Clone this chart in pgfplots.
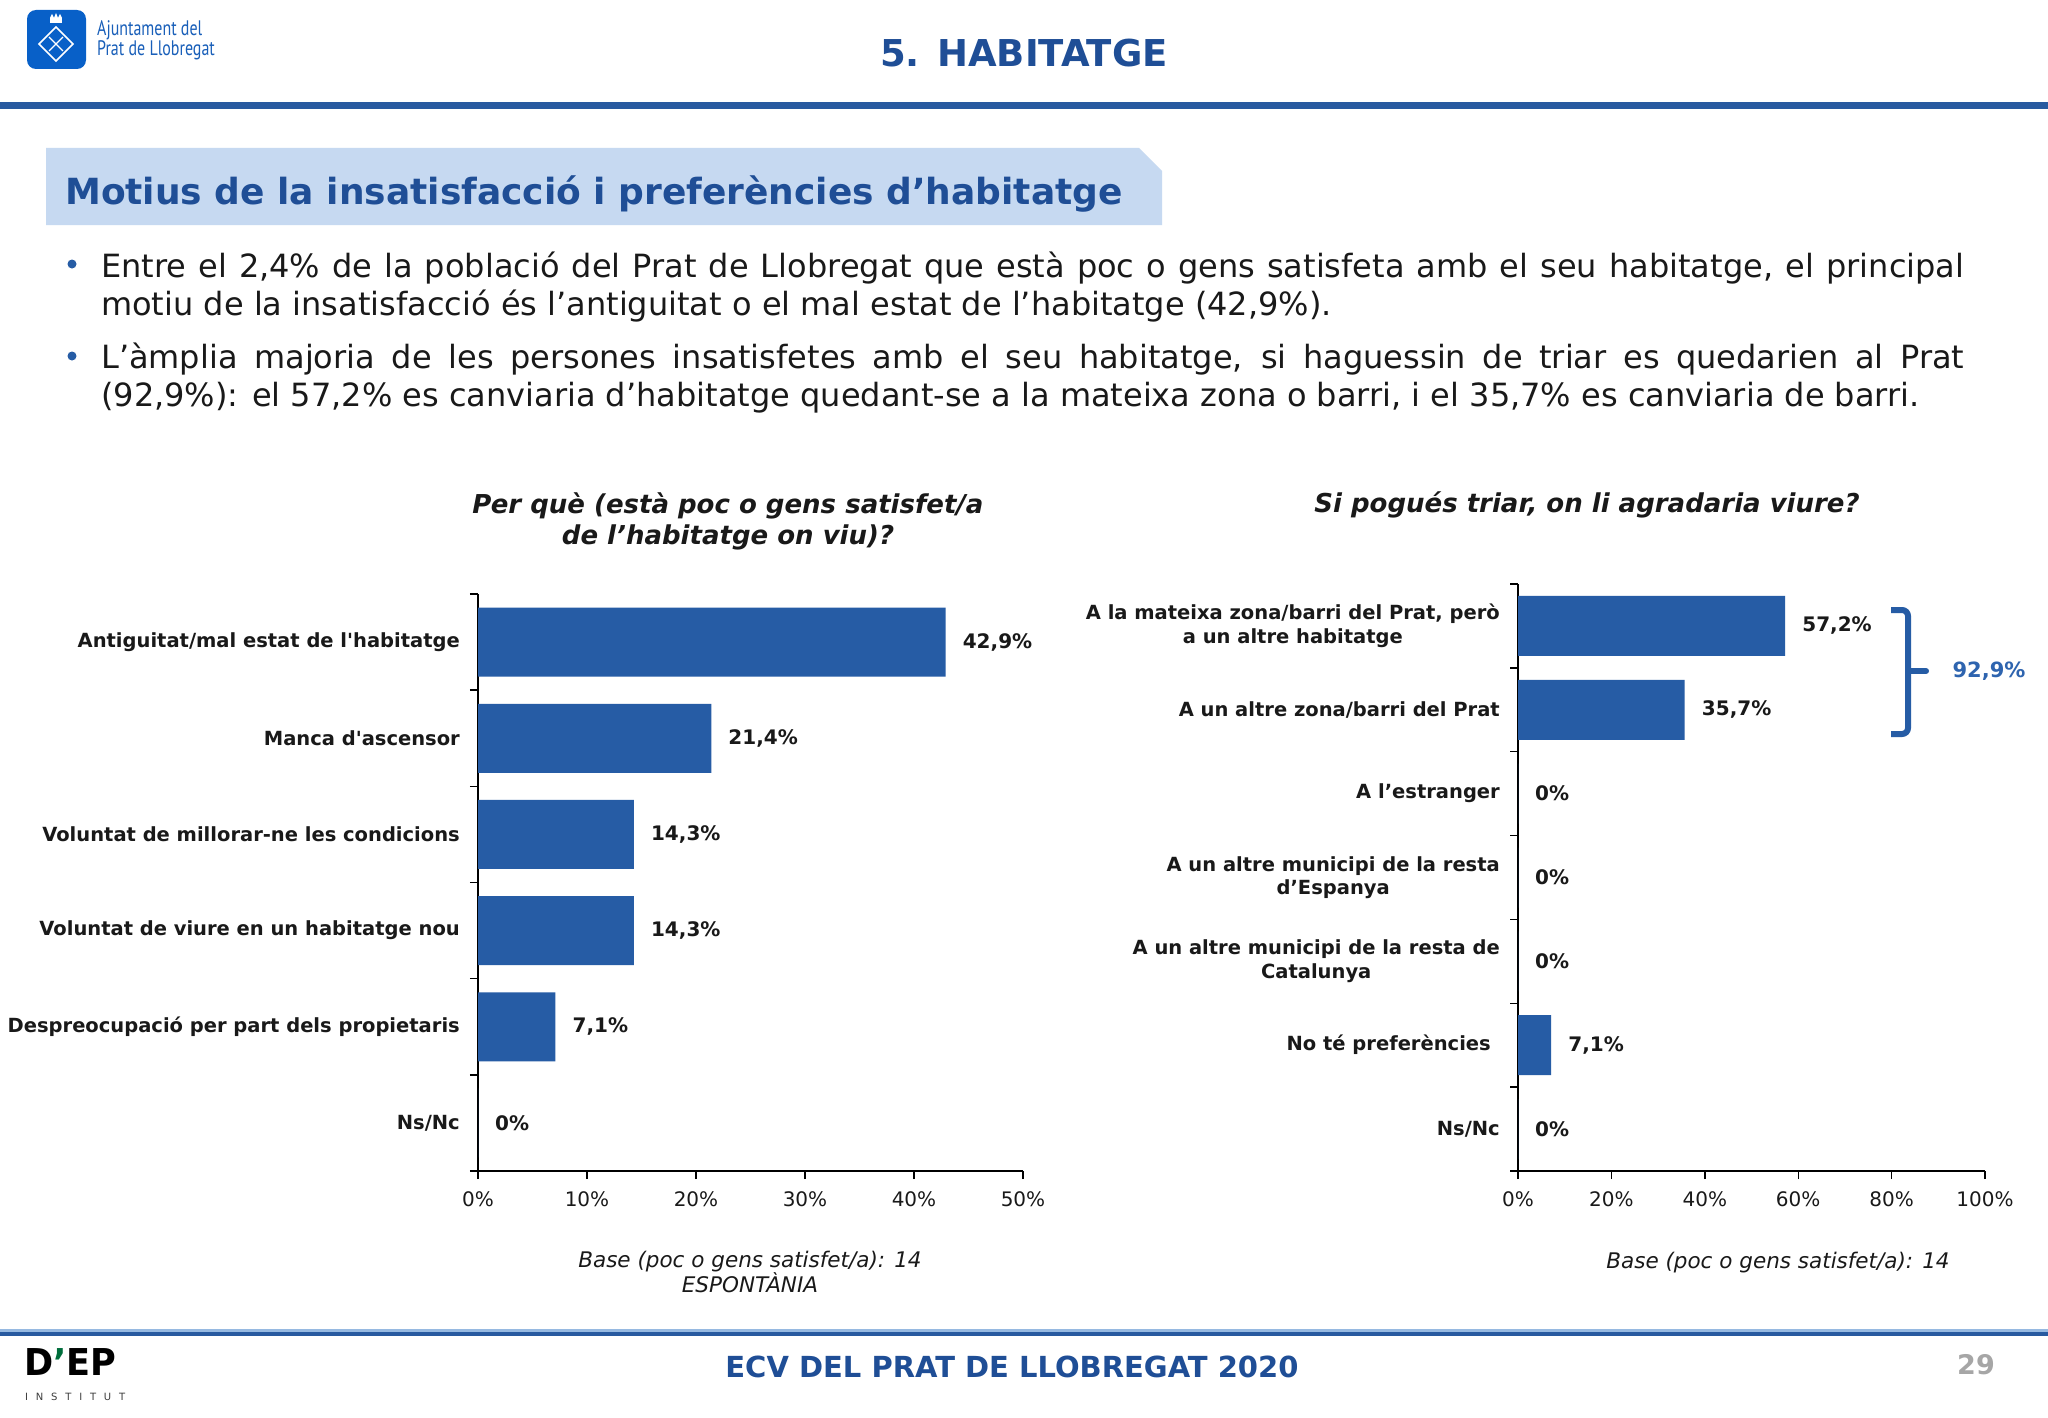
\documentclass[border=0pt]{standalone}
\usepackage{pgfplots}
\pgfplotsset{compat=1.18}
\usepackage{graphicx}
\usepackage{fontspec}
\setmainfont{DejaVu Sans}
\newfontfamily\logofont{PT Sans}
\definecolor{titleblue}{RGB}{31,78,150}
\definecolor{barblue}{RGB}{38,92,165}
\definecolor{boxblue}{RGB}{198,217,241}
\definecolor{logoblue}{RGB}{8,96,200}
\definecolor{lineblue}{RGB}{40,90,160}
\definecolor{lightline}{RGB}{150,185,225}
\definecolor{txt}{RGB}{25,25,25}
\definecolor{depgreen}{RGB}{0,110,60}
\newcommand{\fs}[2]{\fontsize{#1}{#2}\selectfont}
\pgfplotsset{
  mybar/.style={
    xbar, scale only axis, clip=false,
    axis x line*=bottom, axis y line*=left,
    x axis line style={-, black, line width=2.2pt},
    y axis line style={-, black, line width=1.4pt},
    tick align=outside,
    major tick length=8pt,
    tick style={black, line width=1.4pt},
    extra y tick style={major tick length=0pt, tick style={draw=none}},
    yticklabel style={align=center, font=\fs{19.5}{23.5}\bfseries, inner sep=0pt, xshift=-18pt, text=txt},
    xticklabel style={font=\fs{20}{24}, inner sep=0pt, yshift=-12pt, text=txt},
    point meta=explicit symbolic,
    nodes near coords,
    nodes near coords style={anchor=west, inner sep=0pt, xshift=17pt, font=\fs{20}{24}\bfseries, text=txt},
  }
}
\begin{document}
\begin{tikzpicture}[x=1pt,y=-1pt]
\fill[white] (0,0) rectangle (2048,1418);
% ---- header logo
\fill[logoblue, rounded corners=9pt] (27,10) rectangle (86,69);
\draw[white, line width=1.6pt] (56,27) -- (73,44) -- (56,61) -- (39,44) -- cycle;
\draw[white, line width=1.3pt] (49,51)--(63,37) (49,37)--(63,51);
\fill[white] (50,18) rectangle (62,23);
\fill[white] (50,18) -- (52,14) -- (54,18) -- (56,13) -- (58,18) -- (60,14) -- (62,18) -- cycle;
\node[anchor=west, inner sep=0pt, text={rgb,255:red,25;green,95;blue,185}] at (97,30) {\scalebox{0.76}[1]{\logofont\fs{21}{21}Ajuntament del}};
\node[anchor=west, inner sep=0pt, text={rgb,255:red,25;green,95;blue,185}] at (97,50) {\scalebox{0.76}[1]{\logofont\fs{21}{21}Prat de Llobregat}};
% ---- main title
\node[text=titleblue, inner sep=0pt] at (1024,53) {\fs{37}{44}\bfseries 5. HABITATGE};
\fill[lineblue] (0,102) rectangle (2048,109);
% ---- section box
\fill[boxblue] (46,148) -- (1139,148) -- (1162,171) -- (1162,225) -- (46,225) -- cycle;
\node[anchor=west, text=titleblue, inner sep=0pt] at (65,194) {\fs{36}{42}\bfseries Motius de la insatisfacció i preferències d’habitatge};
% ---- bullets
\fill[barblue] (72,264) circle (4.5);
\fill[barblue] (72,356) circle (4.5);
\node[anchor=north west, inner sep=0pt, text width=1863pt, align=justify, text=txt, font=\fs{32}{38}] at (101,251)
 {\strut Entre el 2,4\% de la població del Prat de Llobregat que està poc o gens satisfeta amb el seu habitatge, el principal\linebreak motiu de la insatisfacció és l’antiguitat o el mal estat de l’habitatge (42,9\%).};
\node[anchor=north west, inner sep=0pt, text width=1863pt, align=justify, text=txt, font=\fs{32}{38}] at (101,342)
 {\strut L’àmplia majoria de les persones insatisfetes amb el seu habitatge, si haguessin de triar es quedarien al Prat\linebreak (92,9\%): el 57,2\% es canviaria d’habitatge quedant-se a la mateixa zona o barri, i el 35,7\% es canviaria de barri.};
% ---- chart titles
\node[align=center, inner sep=0pt, text=txt, font=\fs{26}{31}\bfseries\itshape] at (728,521) {Per què (està poc o gens satisfet/a\\ de l’habitatge on viu)?};
\node[align=center, inner sep=0pt, text=txt, font=\fs{26}{31}\bfseries\itshape] at (1587,505) {Si pogués triar, on li agradaria viure?};
% ---- left chart
\begin{axis}[mybar,
  at={(478pt,-1171pt)}, anchor=south west,
  width=545pt, height=577pt,
  xmin=0, xmax=50, ymin=-0.5, ymax=5.5,
  bar width=69pt,
  xtick={0,10,20,30,40,50},
  xticklabels={0\%,10\%,20\%,30\%,40\%,50\%},
  ytick={-0.5,0.5,1.5,2.5,3.5,4.5,5.5},
  yticklabels={{},{},{},{},{},{},{},{}},
  extra y ticks={0,1,2,3,4,5},
  extra y tick labels={{Ns/Nc},{Despreocupació per part dels propietaris},{Voluntat de viure en un habitatge nou},{Voluntat de millorar-ne les condicions},{Manca d\textquotesingle ascensor},{Antiguitat/mal estat de l\textquotesingle habitatge}},
]
\addplot[fill=barblue, draw=none] coordinates {(42.9,5) [42,9\%] (21.4,4) [21,4\%] (14.3,3) [14,3\%] (14.3,2) [14,3\%] (7.1,1) [7,1\%] (0,0) [0\%]};
\end{axis}
% ---- right chart
\begin{axis}[mybar,
  at={(1518pt,-1171pt)}, anchor=south west,
  width=467pt, height=587pt,
  xmin=0, xmax=100, ymin=-0.5, ymax=6.5,
  bar width=60pt,
  xtick={0,20,40,60,80,100},
  xticklabels={0\%,20\%,40\%,60\%,80\%,100\%},
  ytick={-0.5,0.5,1.5,2.5,3.5,4.5,5.5,6.5},
  yticklabels={{},{},{},{},{},{},{},{},{}},
  extra y ticks={0,1,2,3,4,5,6},
  extra y tick labels={{Ns/Nc},{No té preferències\hspace*{9pt}},{A un altre municipi de la resta de\\Catalunya},{A un altre municipi de la resta\\d’Espanya},{A l’estranger},{A un altre zona/barri del Prat},{A la mateixa zona/barri del Prat, però\\a un altre habitatge}},
]
\addplot[fill=barblue, draw=none] coordinates {(57.2,6) [57,2\%] (35.7,5) [35,7\%] (0,4) [0\%] (0,3) [0\%] (0,2) [0\%] (7.1,1) [7,1\%] (0,0) [0\%]};
\end{axis}
% ---- brace
\draw[barblue, line width=6pt, rounded corners=6pt] (1891,610) -- (1908,610) -- (1908,734) -- (1891,734);
\draw[barblue, line width=6pt, line cap=round] (1908,671) -- (1926,671);
\node[text={rgb,255:red,46;green,100;blue,175}, inner sep=0pt] at (1989,671) {\fs{21}{25}\bfseries 92,9\%};
% ---- base notes
\node[align=center, inner sep=0pt, text=txt, font=\fs{21.5}{25}\itshape] at (750,1272) {Base (poc o gens satisfet/a): 14\\ESPONTÀNIA};
\node[align=center, inner sep=0pt, text=txt, font=\fs{21.5}{25}\itshape] at (1778,1263) {Base (poc o gens satisfet/a): 14};
% ---- footer
\fill[lightline] (0,1329) rectangle (2048,1332);
\fill[lineblue] (0,1332) rectangle (2048,1336);
\node[text=titleblue, inner sep=0pt] at (1012,1367) {\fs{29}{34}\bfseries ECV DEL PRAT DE LLOBREGAT 2020};
\node[text={rgb,255:red,166;green,166;blue,166}, inner sep=0pt] at (1976,1365) {\fs{27}{30}\bfseries 29};
\node[anchor=base west, inner sep=0pt] at (24,1375) {\scalebox{0.95}[1]{\fs{37}{37}\bfseries D{\color{depgreen}’}EP}};
\node[anchor=west, inner sep=0pt, text={rgb,255:red,60;green,60;blue,60}] at (25,1397) {\makebox[100pt][s]{\fs{10}{10}I\hfill N\hfill S\hfill T\hfill I\hfill T\hfill U\hfill T}};
\pgfresetboundingbox
\useasboundingbox (0,0) rectangle (2048,1418);
\end{tikzpicture}
\end{document}
